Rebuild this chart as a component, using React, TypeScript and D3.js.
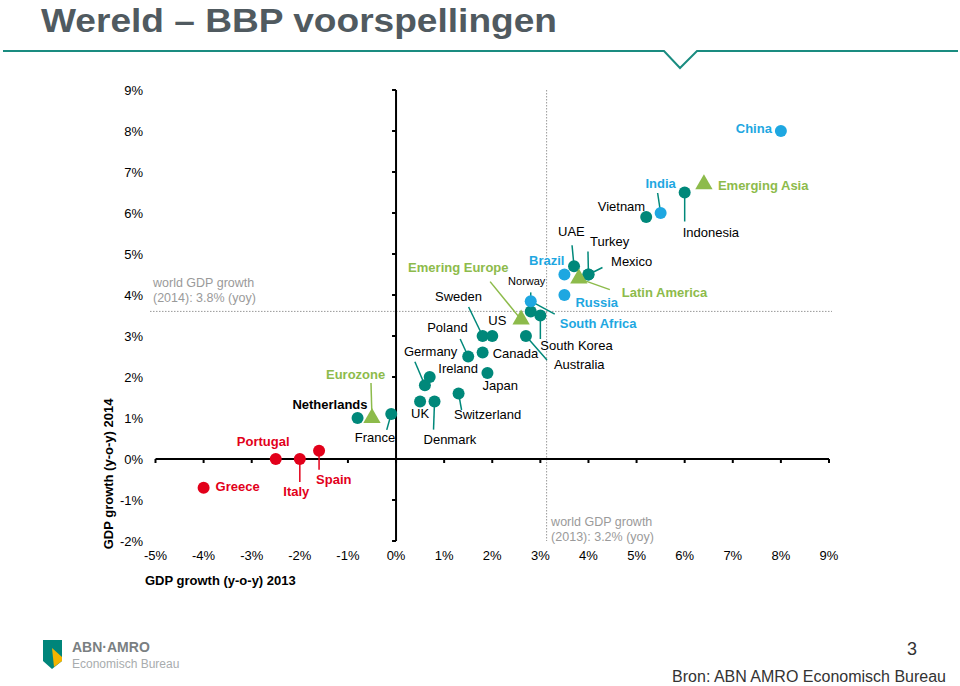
import React from 'react';
import * as d3 from 'd3';

// GDP growth 2013 (x) vs 2014 forecast (y), in %
const countryNames = [
  'Greece', 'Portugal', 'Italy', 'Spain', 'Netherlands', 'France', 'UK', 'Denmark',
  'Germany', 'Ireland', 'Switzerland', 'Poland', 'Sweden', 'US', 'Canada', 'Japan',
  'Australia', 'Norway', 'South Korea', 'South Africa', 'Brazil', 'Russia', 'UAE',
  'Turkey', 'Mexico', 'Vietnam', 'India', 'Indonesia', 'China'
];
const growth2013 = [
  -4.0, -2.5, -2.0, -1.6, -0.8, -0.1, 0.5, 0.8,
  0.6, 0.7, 1.3, 1.5, 1.8, 2.0, 1.8, 1.9,
  2.7, 2.8, 3.0, 2.8, 3.5, 3.5, 3.7,
  4.0, 4.0, 5.2, 5.5, 6.0, 8.0
];
const growth2014 = [
  -0.7, 0.0, 0.0, 0.2, 1.0, 1.1, 1.4, 1.4,
  1.8, 2.0, 1.6, 2.5, 3.0, 3.0, 2.6, 2.1,
  3.0, 3.6, 3.5, 3.85, 4.5, 4.0, 4.7,
  4.5, 4.5, 5.9, 6.0, 6.5, 8.0
];
const countryGroups = [
  'red', 'red', 'red', 'red', 'teal', 'teal', 'teal', 'teal',
  'teal', 'teal', 'teal', 'teal', 'teal', 'teal', 'teal', 'teal',
  'teal', 'teal', 'teal', 'blue', 'blue', 'blue', 'teal',
  'teal', 'teal', 'teal', 'blue', 'teal', 'blue'
];

const regionNames = ['Eurozone', 'Emering Europe', 'Latin America', 'Emerging Asia'];
const region2013 = [-0.5, 2.6, 3.8, 6.4];
const region2014 = [1.0, 3.4, 4.4, 6.7];

const xTicks = [-5, -4, -3, -2, -1, 0, 1, 2, 3, 4, 5, 6, 7, 8, 9];
const yTicks = [-2, -1, 0, 1, 2, 3, 4, 5, 6, 7, 8, 9];

const worldLine2013 = 3.13;
const worldLine2014 = 3.6;

const COLORS: Record<string, string> = {
  teal: '#00887a',
  blue: '#1ea7e1',
  red: '#e2001a',
  green: '#8dbb4b',
};

// label placement relative to the marker (pixels)
type Layout = { dx: number; dy: number; anchor?: string; leader?: [number, number]; bold?: boolean; size?: number };
const layout: Record<string, Layout> = {
  Greece: { dx: 12, dy: 3 },
  Portugal: { dx: -39, dy: -13 },
  Italy: { dx: -16.5, dy: 36.5, leader: [0, 23] },
  Spain: { dx: -3, dy: 33, leader: [0, 19] },
  Netherlands: { dx: 10, dy: -9.5, anchor: 'end', bold: true },
  France: { dx: 4, dy: 28, anchor: 'end', leader: [-4.5, 16] },
  UK: { dx: -9, dy: 16.5 },
  Denmark: { dx: -11, dy: 42, leader: [-1, 28] },
  Germany: { dx: -21, dy: -29, leader: [-10, -23.5] },
  Ireland: { dx: 8.6, dy: -4 },
  Switzerland: { dx: -4.5, dy: 26, leader: [3, 16.6] },
  Poland: { dx: -0.5, dy: -24.5, anchor: 'end', leader: [-8, -17.5] },
  Sweden: { dx: -0.6, dy: -35, anchor: 'end', leader: [-14, -29] },
  US: { dx: -4, dy: -11.5 },
  Canada: { dx: 10, dy: 5.5 },
  Japan: { dx: -5, dy: 17 },
  Australia: { dx: 28, dy: 32.5, leader: [21, 24] },
  Norway: { dx: -4, dy: -26, anchor: 'middle', leader: [0, -19], size: 11 },
  'South Korea': { dx: 0, dy: 34.5, leader: [0, 23.5] },
  'South Africa': { dx: 29, dy: 27, leader: [24, 13] },
  Brazil: { dx: 0, dy: -9.5, anchor: 'end' },
  Russia: { dx: 11, dy: 12 },
  UAE: { dx: -16, dy: -30, leader: [-2, -21] },
  Turkey: { dx: 1.5, dy: -28.5, leader: [-0.5, -23] },
  Mexico: { dx: 22.6, dy: -8.5, leader: [14, -7] },
  Vietnam: { dx: -1, dy: -6.6, anchor: 'end' },
  India: { dx: 0, dy: -25, anchor: 'middle', leader: [-3, -20] },
  Indonesia: { dx: -2, dy: 44.5, leader: [0, 29] },
  China: { dx: -9, dy: 1.5, anchor: 'end' },
  Eurozone: { dx: -46, dy: -39.5, leader: [-1, -35] },
  'Emering Europe': { dx: -113, dy: -47.6, leader: [-31, -38] },
  'Latin America': { dx: 43, dy: 18, leader: [31, 11] },
  'Emerging Asia': { dx: 14, dy: 6 },
};

const FONT = '"Liberation Sans", Arial, sans-serif';

const App: React.FC = () => {
  const x = d3.scaleLinear().domain([-5, 9]).range([155.5, 829]);
  const y = d3.scaleLinear().domain([-2, 9]).range([541, 90]);

  const countries = countryNames.map((name, i) => ({
    name, gx: growth2013[i], gy: growth2014[i], group: countryGroups[i], kind: 'dot',
  }));
  const regions = regionNames.map((name, i) => ({
    name, gx: region2013[i], gy: region2014[i], group: 'green', kind: 'tri',
  }));
  // teal behind, coloured on top
  const order = ['teal', 'red', 'blue', 'green'];
  const marks = [...countries, ...regions].sort((a, b) => order.indexOf(a.group) - order.indexOf(b.group));

  const tri = d3.symbol().type(d3.symbolTriangle).size(130)() as string;

  const labelColor = (g: string) => (g === 'teal' ? '#000' : COLORS[g]);

  return (
    <svg width={960} height={686} style={{ position: 'absolute', left: 0, top: 0, background: '#fff' }} fontFamily={FONT}>
      {/* header */}
      <text x={41} y={32} fontSize={34} fontWeight="bold" fill="#505a60" textLength={516} lengthAdjust="spacingAndGlyphs">Wereld – BBP voorspellingen</text>
      <path d="M3,51 L664,51 L680,68 L697,51 L958,51" fill="none" stroke="#1a8c80" strokeWidth={2} />

      {/* world growth reference lines */}
      <line x1={150} x2={832} y1={y(worldLine2014)} y2={y(worldLine2014)} stroke="#999" strokeWidth={1} strokeDasharray="1.5,1.5" />
      <line x1={x(worldLine2013)} x2={x(worldLine2013)} y1={y(9)} y2={y(-2)} stroke="#999" strokeWidth={1} strokeDasharray="1.5,1.5" />
      <text x={153} y={287} fontSize={12.5} fill="#9a9a9a">world GDP growth</text>
      <text x={153} y={302} fontSize={12.5} fill="#9a9a9a">(2014): 3.8% (yoy)</text>
      <text x={x(worldLine2013) + 4.5} y={526} fontSize={12.5} fill="#9a9a9a">world GDP growth</text>
      <text x={x(worldLine2013) + 4.5} y={541} fontSize={12.5} fill="#9a9a9a">(2013): 3.2% (yoy)</text>

      {/* axes */}
      <line x1={x(-5)} x2={x(9)} y1={y(0)} y2={y(0)} stroke="#000" strokeWidth={2} />
      {xTicks.map(t => (
        <line key={'xt' + t} x1={x(t)} x2={x(t)} y1={y(0)} y2={y(0) + 4} stroke="#000" strokeWidth={2} />
      ))}
      <line x1={x(0)} x2={x(0)} y1={y(9)} y2={y(-2)} stroke="#000" strokeWidth={2} />
      {yTicks.map(t => (
        <line key={'yt' + t} x1={x(0) - 4} x2={x(0)} y1={y(t)} y2={y(t)} stroke="#000" strokeWidth={2} />
      ))}
      {xTicks.map(t => (
        <text key={'xl' + t} x={x(t)} y={559.5} fontSize={13} textAnchor="middle" fill="#000">{t}%</text>
      ))}
      {yTicks.map(t => (
        <text key={'yl' + t} x={143} y={y(t) + 4.5} fontSize={13} textAnchor="end" fill="#000">{t}%</text>
      ))}
      <text x={145} y={584.5} fontSize={13} fontWeight="bold" fill="#000">GDP growth (y-o-y) 2013</text>
      <text transform="translate(113,474) rotate(-90)" fontSize={13} fontWeight="bold" textAnchor="middle" fill="#000">GDP growth (y-o-y) 2014</text>

      {/* leader lines */}
      {marks.map(m => {
        const l = layout[m.name];
        if (!l || !l.leader) return null;
        const px = x(m.gx), py = y(m.gy);
        const c = m.group === 'red' ? COLORS.red : m.group === 'green' ? COLORS.green : COLORS.teal;
        return <line key={'ld' + m.name} x1={px} y1={py} x2={px + l.leader[0]} y2={py + l.leader[1]} stroke={c} strokeWidth={1.5} />;
      })}

      {/* markers */}
      {marks.map(m =>
        m.kind === 'tri' ? (
          <path key={'mk' + m.name} d={tri} transform={`translate(${x(m.gx)},${y(m.gy)})`} fill={COLORS.green} />
        ) : (
          <circle key={'mk' + m.name} cx={x(m.gx)} cy={y(m.gy)} r={6} fill={COLORS[m.group]} />
        )
      )}

      {/* labels */}
      {marks.map(m => {
        const l = layout[m.name];
        const bold = m.group !== 'teal' || l.bold;
        return (
          <text key={'lb' + m.name} x={x(m.gx) + l.dx} y={y(m.gy) + l.dy} fontSize={l.size || 13}
            fontWeight={bold ? 'bold' : 'normal'} textAnchor={l.anchor || 'start'} fill={labelColor(m.group)}>
            {m.name}
          </text>
        );
      })}

      {/* footer */}
      <path d="M43,640 L62,640 L62,661 L52,669 L43,661 Z" fill="#00857a" />
      <path d="M52,648 L62,657 L62,661 L54,667 Z" fill="#f4b400" />
      <text x={72} y={652} fontSize={14} fontWeight="bold" fill="#7a7f82">ABN·AMRO</text>
      <text x={72} y={668} fontSize={12} fill="#a8acae">Economisch Bureau</text>
      <text x={917} y={655} fontSize={18} textAnchor="end" fill="#333">3</text>
      <text x={946} y={682} fontSize={16} textAnchor="end" fill="#333">Bron: ABN AMRO Economisch Bureau</text>
    </svg>
  );
};

export default App;
